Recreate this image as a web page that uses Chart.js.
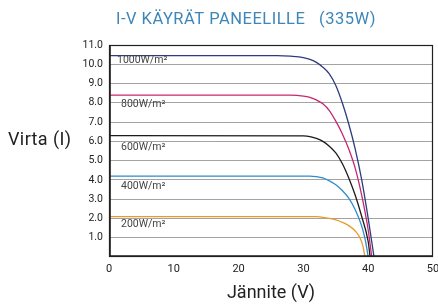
<!DOCTYPE html>
<html>
<head>
<meta charset="utf-8">
<script src="https://cdn.jsdelivr.net/npm/chart.js@4"></script>
<style>
html, body { margin: 0; padding: 0; background: #fff; }
#wrap { width: 438px; height: 304px; overflow: hidden; }
</style>
</head>
<body>
<div id="wrap"><canvas id="ivChart" width="446" height="304"></canvas></div>
<script>
// irradiance series (labels drawn inside the plot)
var seriesLabels = ["1000W/m²", "800W/m²", "600W/m²", "400W/m²", "200W/m²"];

// voltage (V) / current (A)
var voltage1000 = [0, 26, 28, 30, 31, 32, 33, 34, 35, 36, 37, 38, 39, 40, 40.9];
var current1000 = [10.45, 10.45, 10.42, 10.35, 10.25, 10.1, 9.85, 9.5, 8.9, 8.0, 6.9, 5.6, 4.0, 2.0, 0];

var voltage800 = [0, 28, 30, 31, 32, 33, 34, 35, 36, 37, 38, 39, 40, 40.55];
var current800 = [8.4, 8.4, 8.35, 8.28, 8.15, 7.95, 7.6, 7.05, 6.4, 5.6, 4.6, 3.2, 1.4, 0];

var voltage600 = [0, 30, 31, 32, 33, 34, 35, 36, 37, 38, 39, 40, 40.3];
var current600 = [6.3, 6.28, 6.25, 6.15, 6.0, 5.75, 5.4, 4.85, 4.1, 3.2, 2.1, 0.8, 0];

var voltage400 = [0, 31, 32, 33, 34, 35, 36, 37, 38, 39, 39.6, 40.0];
var current400 = [4.2, 4.2, 4.17, 4.1, 3.95, 3.75, 3.45, 3.05, 2.45, 1.6, 0.8, 0];

var voltage200 = [0, 31, 32, 33, 34, 35, 36, 37, 38, 38.8, 39.2, 39.5];
var current200 = [2.1, 2.1, 2.09, 2.06, 2.0, 1.92, 1.8, 1.63, 1.35, 0.95, 0.55, 0];

var xTicks = [0, 10, 20, 30, 40, 50];
var yTicks = [1, 2, 3, 4, 5, 6, 7, 8, 9, 10, 11];

var lineColors = ["#2f3b7e", "#c5286f", "#1b1b1b", "#2e8ccb", "#e89a2c"];

function toPoints(vs, is) {
    return vs.map(function(v, k) { return { x: v, y: is[k] }; });
}

var curves = [
    toPoints(voltage1000, current1000),
    toPoints(voltage800, current800),
    toPoints(voltage600, current600),
    toPoints(voltage400, current400),
    toPoints(voltage200, current200)
];

Chart.defaults.font.family = "Roboto";

// frame, title, horizontal y title and in-plot labels
var labelOffsets = [5, 9, 12, 10, 7.5];
var extras = {
    id: 'extras',
    afterDatasetsDraw: function(chart) {
        var ctx = chart.ctx, a = chart.chartArea;
        ctx.save();
        ctx.strokeStyle = "#231f20";
        ctx.lineWidth = 1.2;
        ctx.strokeRect(a.left + 0.5, a.top + 0.5, a.width - 1, a.height - 1);
        ctx.lineWidth = 1.8;
        ctx.beginPath();
        ctx.moveTo(a.left + 0.9, a.top);
        ctx.lineTo(a.left + 0.9, a.bottom - 0.9);
        ctx.lineTo(a.right, a.bottom - 0.9);
        ctx.stroke();

        ctx.fillStyle = "#444";
        ctx.font = "10.5px Roboto";
        ctx.textAlign = "left";
        ctx.textBaseline = "middle";
        var ys = chart.scales.y;
        seriesLabels.forEach(function(txt, i) {
            var y = ys.getPixelForValue(curves[i][0].y) + labelOffsets[i];
            ctx.fillText(txt, a.left + (i === 0 ? 8 : 12), y);
        });
        ctx.restore();
    },
    afterDraw: function(chart) {
        var ctx = chart.ctx;
        ctx.save();
        ctx.textBaseline = "middle";
        ctx.fillStyle = "#3d86b8";
        ctx.font = "16.5px Roboto";
        ctx.letterSpacing = "0.5px";
        ctx.textAlign = "center";
        ctx.fillText("I-V KÄYRÄT PANEELILLE   (335W)", 246, 20);

        ctx.fillStyle = "#222";
        ctx.font = "18px Roboto";
        ctx.letterSpacing = "0.4px";
        ctx.textAlign = "left";
        ctx.fillText("Virta (I)", 8, 140);
        ctx.restore();
    }
};

var ivChart = new Chart(document.getElementById("ivChart"), {
    type: 'line',
    data: {
        datasets: curves.map(function(pts, i) {
            return {
                label: seriesLabels[i],
                data: pts,
                borderColor: lineColors[i],
                backgroundColor: lineColors[i],
                borderWidth: 1.3,
                pointRadius: 0,
                fill: false,
                cubicInterpolationMode: 'monotone'
            };
        })
    },
    options: {
        responsive: false,
        animation: false,
        layout: { padding: { top: 45, right: 13, left: 0, bottom: 0 } },
        plugins: {
            legend: { display: false },
            tooltip: { enabled: false }
        },
        scales: {
            x: {
                type: 'linear',
                min: xTicks[0],
                max: xTicks[xTicks.length - 1],
                afterBuildTicks: function(s) { s.ticks = xTicks.map(function(v) { return { value: v }; }); },
                border: { display: false },
                grid: { display: false, drawTicks: false },
                ticks: { color: "#222", font: { size: 11 }, padding: 6, maxRotation: 0 },
                title: { display: true, text: "Jännite (V)", color: "#222", font: { size: 18 }, padding: { top: 6, bottom: 0 } },
                afterFit: function(s) { s.height = 47; }
            },
            y: {
                min: 0,
                max: 11,
                afterBuildTicks: function(s) { s.ticks = yTicks.map(function(v) { return { value: v }; }); },
                border: { display: false },
                grid: {
                    drawTicks: false,
                    color: function(c) { return (c.tick && c.tick.value < 11) ? "#a3a3a3" : "rgba(0,0,0,0)"; },
                    lineWidth: 1
                },
                ticks: {
                    color: "#222",
                    font: { size: 10.5 },
                    padding: 6,
                    callback: function(v) { return v.toFixed(1); }
                },
                afterFit: function(s) { s.width = 109; }
            }
        }
    },
    plugins: [extras]
});
</script>
</body>
</html>
